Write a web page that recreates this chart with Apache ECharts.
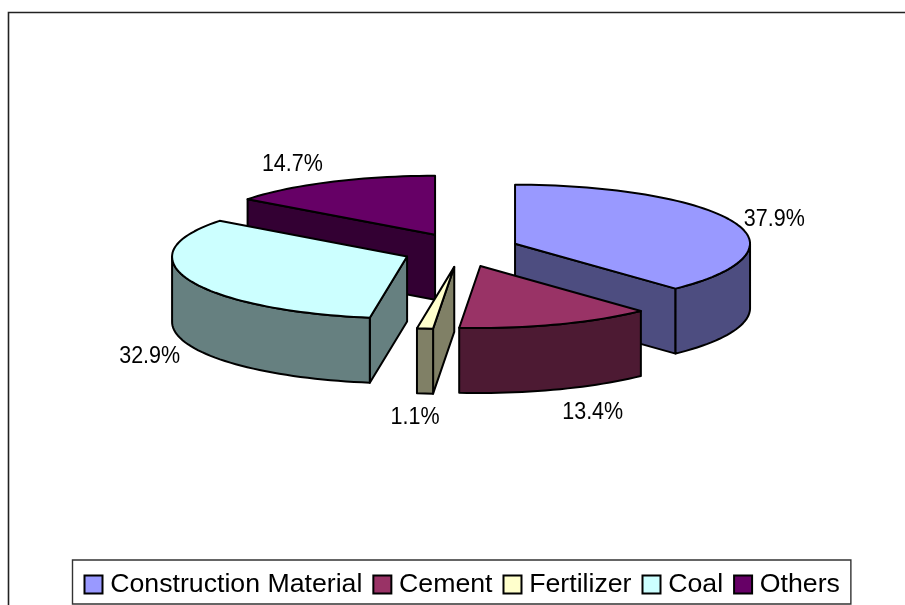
<!DOCTYPE html>
<html>
<head>
<meta charset="utf-8">
<style>html,body{margin:0;padding:0;background:#fff}#chart{width:905px;height:605px}</style>
<script src="https://cdn.jsdelivr.net/npm/echarts@6/dist/echarts.min.js"></script>
</head>
<body>
<div id="chart"></div>
<script>
// Share of freight by commodity
const categories = ['Construction Material', 'Cement', 'Fertilizer', 'Coal', 'Others'];
const shares = [37.9, 13.4, 1.1, 32.9, 14.7];
const topColors = ['#9999FF', '#993366', '#FFFFCC', '#CCFFFF', '#660066'];
const sideColors = ['#4D4D80', '#4D1A33', '#808066', '#668080', '#330033'];

// Slices further back are painted first so nearer ones cover them
const paintZ = [2, 4, 5, 3, 1];

// Oblique projection of the pie
const center = { x: 461, y: 250 };
const radiusX = 235, radiusBack = 59, radiusFront = 62, depth = 65, frontSkew = 2;
const explodeX = 58.2, explodeY = 17;
// Label displacement from the outer rim at each slice's middle angle
const labelShift = [[41, -2], [36, 23], [-10, 24], [-39, 12], [-38, -17]];

const total = shares.reduce((a, b) => a + b, 0);
const starts = [];
shares.reduce((sum, v, i) => { starts[i] = sum; return sum + v; }, 0);

function rim(apex, deg) {
  const t = deg * Math.PI / 180, c = Math.cos(t);
  return [
    apex[0] + radiusX * Math.sin(t) + frontSkew * Math.min(0, c),
    apex[1] - c * (c > 0 ? radiusBack : radiusFront)
  ];
}
function arc(apex, from, to) {
  const pts = [], n = Math.max(2, Math.ceil((to - from) / 2));
  for (let i = 0; i <= n; i++) pts.push(rim(apex, from + (to - from) * i / n));
  return pts;
}
const lower = p => [p[0], p[1] + depth];
const outline = { stroke: '#000', lineWidth: 2, lineJoin: 'round' };

function renderSlice(i, api) {
  const value = api.value(0), start = api.value(1);
  const a0 = start / total * 360, a1 = (start + value) / total * 360, mid = (a0 + a1) / 2;
  const m = mid * Math.PI / 180;
  const apex = [center.x + explodeX * Math.sin(m), center.y - explodeY * Math.cos(m)];
  const parts = [];
  const poly = (points, fill) => parts.push({
    type: 'polygon', shape: { points }, style: Object.assign({ fill }, outline)
  });
  const side = sideColors[i];

  // Cut faces that turn toward the viewer
  if (a1 < 180) {
    const p = rim(apex, a1);
    poly([apex, p, lower(p), lower(apex)], side);
  }
  if (a0 > 180) {
    const p = rim(apex, a0);
    poly([apex, p, lower(p), lower(apex)], side);
  }
  // Outer wall on the near half of the pie
  const w0 = Math.max(a0, 90), w1 = Math.min(a1, 270);
  if (w1 > w0) {
    const edge = arc(apex, w0, w1);
    poly(edge.concat(edge.slice().reverse().map(lower)), side);
  }
  // Top surface
  poly([apex].concat(arc(apex, a0, a1)), topColors[i]);

  // Percentage label, stretched a little taller than the regular face
  const r = rim(apex, mid);
  const base = (mid > 90 && mid < 270) ? lower(r) : r;
  parts.push({
    type: 'text',
    z2: 100,
    x: base[0] + labelShift[i][0],
    y: base[1] + labelShift[i][1],
    scaleY: 1.1,
    style: {
      x: 0,
      y: 0,
      text: value.toFixed(1) + '%',
      fill: '#000',
      font: '21.5px "Liberation Sans", Arial, sans-serif',
      align: 'center',
      verticalAlign: 'middle'
    }
  });
  return { type: 'group', children: parts };
}

const chart = echarts.init(document.getElementById('chart'), null, { renderer: 'canvas' });
chart.setOption({
  animation: false,
  backgroundColor: '#fff',
  graphic: [{
    type: 'polyline',
    silent: true,
    shape: { points: [[8.5, 605], [8.5, 12.5], [905, 12.5]] },
    style: { stroke: '#222', lineWidth: 1.6, fill: null }
  }],
  legend: {
    data: categories,
    left: 72.5,
    top: 560,
    orient: 'horizontal',
    itemWidth: 18,
    itemHeight: 18,
    itemGap: 10,
    padding: [11, 11, 6, 11],
    borderColor: '#333',
    borderWidth: 1.4,
    selectedMode: false,
    icon: 'rect',
    itemStyle: { borderColor: '#000', borderWidth: 2 },
    textStyle: {
      color: '#000',
      fontFamily: '"Liberation Sans", Arial, sans-serif',
      fontSize: 26.7,
      padding: [0, 0, 0, 2.7]
    }
  },
  series: categories.map((name, i) => ({
    type: 'custom',
    name,
    coordinateSystem: 'none',
    z: paintZ[i],
    itemStyle: { color: topColors[i] },
    renderItem: (params, api) => renderSlice(i, api),
    data: [[shares[i], starts[i]]],
    silent: true
  }))
});
</script>
</body>
</html>
